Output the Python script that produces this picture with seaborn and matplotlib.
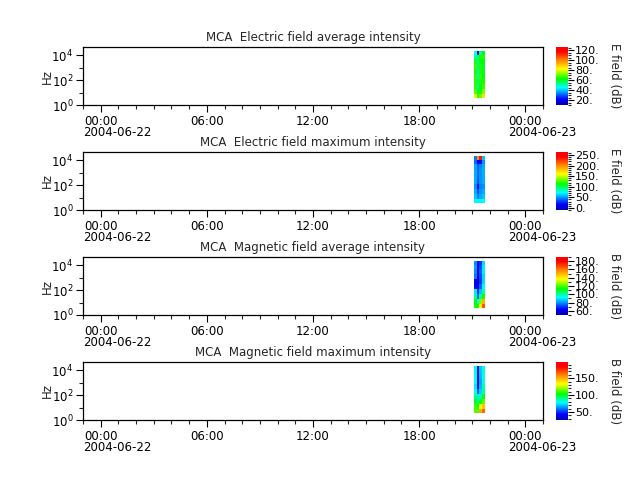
import numpy as np
import pandas as pd
import matplotlib
matplotlib.use("Agg")
import matplotlib.pyplot as plt
import matplotlib.dates as mdates
from matplotlib.colors import LinearSegmentedColormap
from matplotlib.ticker import FixedLocator, MultipleLocator, FuncFormatter, NullFormatter
import seaborn as sns

# time bins (edges) of the single pass, frequency bins (edges, Hz)
time_edges = ["2004-06-22 21:06", "2004-06-22 21:15", "2004-06-22 21:24",
              "2004-06-22 21:33", "2004-06-22 21:42"]
freq_edges = [3.5, 8, 20, 50, 120, 300, 700, 1800, 4500, 11000, 20000]

# intensities in dB, rows = frequency bins (low -> high), cols = time bins
e_avg = [[80, 66, 70, 86],
         [68, 58, 64, 72],
         [66, 52, 62, 66],
         [65, 55, 64, 64],
         [66, 50, 66, 62],
         [64, 50, 64, 60],
         [66, 54, 64, 60],
         [64, 52, 62, 62],
         [50, 56, 64, 64],
         [45, 14, 52, 62]]
e_max = [[75, 70, 70, 72],
         [60, 45, 55, 60],
         [55, 35, 50, 55],
         [50, 20, 45, 50],
         [55, 35, 50, 55],
         [55, 40, 50, 55],
         [55, 40, 50, 55],
         [55, 38, 48, 55],
         [40, 10, 20, 50],
         [45, 200, 235, 60]]
b_avg = [[115, 110, 140, 165],
         [112, 95, 125, 150],
         [100, 75, 100, 115],
         [90, 70, 85, 100],
         [62, 56, 75, 92],
         [60, 55, 70, 88],
         [78, 58, 72, 88],
         [80, 60, 75, 90],
         [82, 62, 72, 90],
         [80, 65, 70, 88]]
b_max = [[112, 112, 150, 165],
         [110, 105, 130, 145],
         [100, 90, 105, 115],
         [90, 75, 85, 100],
         [80, 55, 72, 88],
         [75, 40, 68, 85],
         [78, 35, 65, 82],
         [78, 38, 68, 80],
         [80, 35, 70, 82],
         [80, 40, 70, 80]]

titles = ["MCA  Electric field average intensity", "MCA  Electric field maximum intensity",
          "MCA  Magnetic field average intensity", "MCA  Magnetic field maximum intensity"]
cbar_labels = ["E field (dB)", "E field (dB)", "B field (dB)", "B field (dB)"]
vmins = [10, -10, 50, 26]
vmaxs = [126, 265, 190, 198]
major_steps = [20, 50, 20, 50]
minor_steps = [5, 10, 10, 10]

sns.set_style("ticks")
plt.rcParams["font.family"] = ["DejaVu Sans"]
plt.rcParams["font.size"] = 8.5

cmap = LinearSegmentedColormap.from_list(
    "wedge", [(0, "#0000b0"), (0.1, "#0000ff"), (0.3, "#00ffff"), (0.45, "#00ff00"),
              (0.62, "#ffff00"), (0.78, "#ff8000"), (0.92, "#ff0000"), (1, "#ff0000")])

tx = mdates.date2num(pd.to_datetime(time_edges))
x0 = mdates.date2num(pd.Timestamp("2004-06-21 23:00"))
x1 = mdates.date2num(pd.Timestamp("2004-06-23 01:00"))
major_times = pd.date_range("2004-06-22 00:00", "2004-06-23 00:00", freq="6h")

fig = plt.figure(figsize=(6.4, 4.8), dpi=100)
W, H = 640, 480
tops = [47, 152, 257, 362]
ph = 58

for i, data in enumerate([e_avg, e_max, b_avg, b_max]):
    top = tops[i]
    ax = fig.add_axes([83 / W, 1 - (top + ph) / H, 460 / W, ph / H])
    cax = fig.add_axes([556 / W, 1 - (top + ph) / H, 12 / W, ph / H])

    mesh = ax.pcolormesh(tx, freq_edges, np.array(data), cmap=cmap,
                         vmin=vmins[i], vmax=vmaxs[i], shading="flat")
    ax.set_yscale("log")
    ax.set_ylim(1, 4.4e4)
    ax.set_xlim(x0, x1)
    ax.yaxis.set_major_locator(FixedLocator([1, 100, 10000]))
    ax.yaxis.set_minor_locator(FixedLocator([10, 1000]))
    ax.yaxis.set_minor_formatter(NullFormatter())
    ax.set_ylabel("Hz", fontsize=8.5)
    ax.yaxis.set_label_coords(-0.064, 0.5)

    ax.set_xticks(mdates.date2num(major_times))
    ax.set_xticklabels([t.strftime("%H:%M") for t in major_times])
    ax.xaxis.set_minor_locator(mdates.HourLocator(interval=1))
    for t in major_times:
        if t.hour == 0:
            ax.annotate(t.strftime("%Y-%m-%d"), xy=(mdates.date2num(t), 0),
                        xycoords=("data", "axes fraction"), xytext=(-12.7, -15),
                        textcoords="offset points", ha="left", va="top",
                        fontsize=8.5, color="black")

    ax.tick_params(which="major", length=5, width=0.8, pad=2, colors="black",
                   labelsize=8.5, direction="out")
    ax.tick_params(which="minor", length=3, width=0.8, direction="out")
    for s in ax.spines.values():
        s.set_color("black")
        s.set_linewidth(0.9)
    ax.set_title(titles[i], fontsize=8.5, pad=4)

    cb = fig.colorbar(mesh, cax=cax)
    cb.outline.set_visible(False)
    cb.ax.yaxis.set_major_locator(MultipleLocator(major_steps[i]))
    cb.ax.yaxis.set_minor_locator(MultipleLocator(minor_steps[i]))
    cb.ax.yaxis.set_major_formatter(FuncFormatter(lambda v, p: f"{v:g}."))
    cb.ax.tick_params(which="major", length=4, width=0.8, pad=1, labelsize=8,
                      colors="black", direction="out")
    cb.ax.tick_params(which="minor", length=2.5, width=0.8, direction="out")
    cb.set_label(cbar_labels[i], rotation=270, va="bottom", fontsize=8.5, labelpad=6)

fig.savefig("out.png", dpi=100)
